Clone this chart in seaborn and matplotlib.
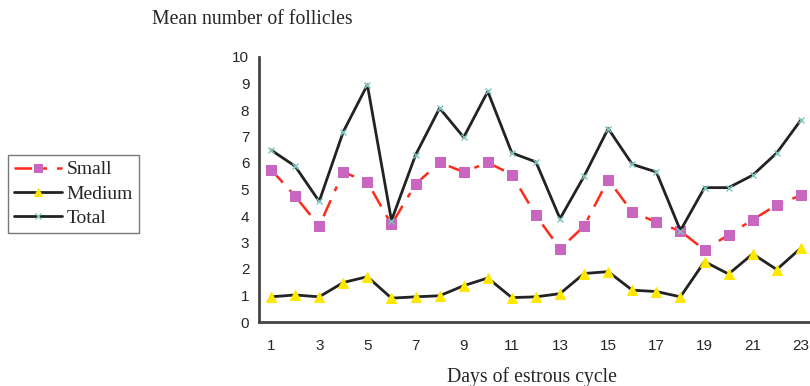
import pandas as pd
import seaborn as sns
import matplotlib.pyplot as plt

# mean follicle counts per day of the estrous cycle
days = list(range(1, 24))
small = [5.75, 4.75, 3.62, 5.66, 5.28, 3.68, 5.2, 6.02, 5.66, 6.02, 5.56, 4.02,
         2.76, 3.62, 5.37, 4.15, 3.77, 3.43, 2.72, 3.29, 3.86, 4.42, 4.78]
medium = [0.95, 1.02, 0.95, 1.49, 1.71, 0.9, 0.95, 0.99, 1.37, 1.66, 0.92, 0.95,
          1.07, 1.83, 1.9, 1.2, 1.15, 0.95, 2.28, 1.81, 2.57, 1.98, 2.79]
total = [6.49, 5.88, 4.55, 7.18, 8.95, 3.83, 6.3, 8.07, 6.97, 8.7, 6.38, 6.04,
         3.9, 5.5, 7.3, 5.95, 5.66, 3.45, 5.07, 5.07, 5.54, 6.38, 7.62]
odd_labels = [str(d) for d in range(1, 24, 2)]

df = pd.DataFrame({'Day': days, 'Small': small, 'Medium': medium, 'Total': total})

sns.set_style('white')
plt.rcParams['font.family'] = ['Liberation Sans', 'DejaVu Sans']

fig = plt.figure(figsize=(8.1, 3.86), dpi=100)
ax = fig.add_axes([259/810, 1-322/386, 551/810, 265/386])

sns.lineplot(data=df, x='Day', y='Small', ax=ax, color='#ff2a1a', lw=1.8,
             linestyle=(0, (7, 4, 2, 4)), marker='s', markersize=6.5,
             markerfacecolor='#c866c0', markeredgecolor='#c866c0', label='Small')
sns.lineplot(data=df, x='Day', y='Medium', ax=ax, color='#222222', lw=2,
             marker='^', markersize=7, markerfacecolor='#ffe800',
             markeredgecolor='#ffe800', label='Medium')
sns.lineplot(data=df, x='Day', y='Total', ax=ax, color='#222222', lw=2,
             marker='x', markersize=5, markeredgecolor='#7cc4bc',
             markeredgewidth=1, label='Total')

ax.set_xlim(0.5, 23.38)
ax.set_ylim(0, 10)
ax.set_yticks(range(0, 11))
ax.set_xticks(range(1, 24, 2))
ax.set_xticklabels(odd_labels)
ax.set_xticks([d + 0.5 for d in range(0, 23)], minor=True)
ax.tick_params(axis='x', which='major', length=0, pad=12, labelsize=11)
ax.tick_params(axis='x', which='minor', length=4, width=1.5, direction='out', color='#333333')
ax.tick_params(axis='y', length=4, width=1.5, direction='out', color='#333333', labelsize=11, pad=3)

for s in ['top', 'right']:
    ax.spines[s].set_visible(False)
for s in ['left', 'bottom']:
    ax.spines[s].set_linewidth(2)
    ax.spines[s].set_color('#444444')

ax.set_ylabel('')
ax.set_xlabel('')
fig.text(532/810, 1-377/386, 'Days of estrous cycle', family=['Liberation Serif'],
         fontsize=14.2, va='center', ha='center')
fig.text(152/810, 1-20/386, 'Mean number of follicles', family=['Liberation Serif'],
         fontsize=14.2, va='center', ha='left')

leg = ax.legend(loc='upper left', bbox_to_anchor=(-251/551, 1-(155-57)/265),
                frameon=True, fancybox=False, prop={'family': 'Liberation Serif', 'size': 14},
                handlelength=2.5, borderaxespad=0, labelspacing=0.35, handletextpad=0.2,
                borderpad=0.3, markerscale=0.9)
leg.get_frame().set_edgecolor('#555555')
leg.get_frame().set_linewidth(1)

fig.savefig('out.png', dpi=100)
